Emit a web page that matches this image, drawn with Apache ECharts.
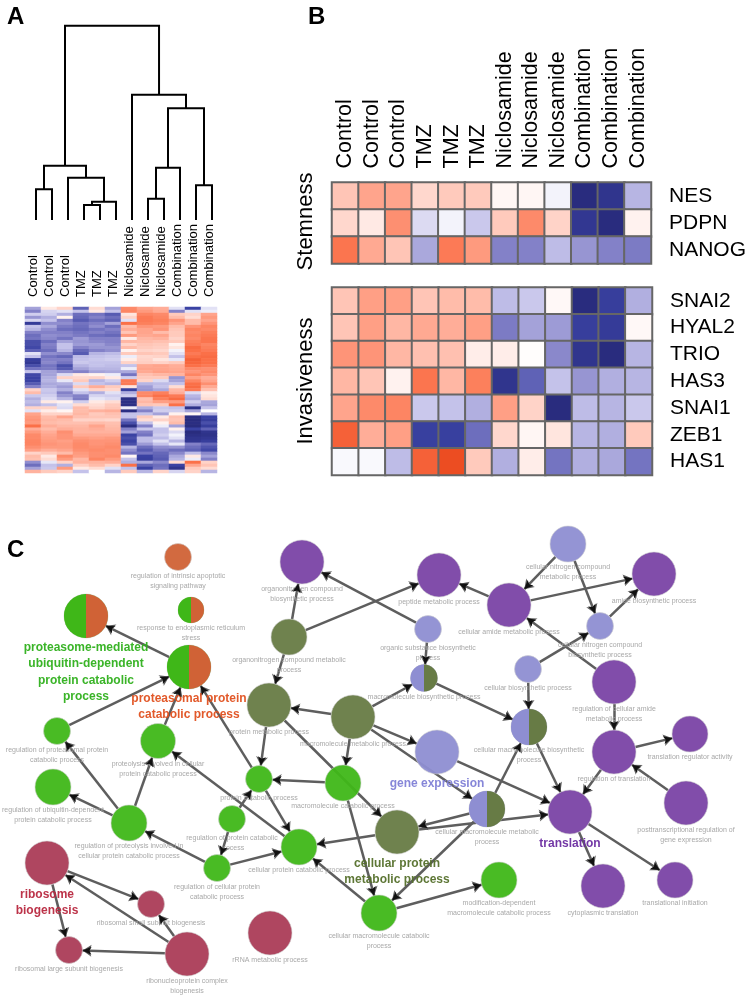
<!DOCTYPE html>
<html>
<head>
<meta charset="utf-8">
<style>html,body{margin:0;padding:0;background:#fff}#chart{width:749px;height:996px}</style>
<script src="https://cdn.jsdelivr.net/npm/echarts@6/dist/echarts.min.js"></script>
</head>
<body>
<div id="chart"></div>
<script>
// ---------- data ----------
const sampleLabels = ['Control','Control','Control','TMZ','TMZ','TMZ','Niclosamide','Niclosamide','Niclosamide','Combination','Combination','Combination'];
// dendrogram merges: left leaf position, left height, right leaf position, right height, merge height
const dendroMerges = [
  [0,0,1,0,30.7],
  [3,0,4,0,15],
  [3.5,15,5,0,18.3],
  [2,0,4.25,18.3,42.3],
  [0.5,30.7,3.125,42.3,54.3],
  [7,0,8,0,21.3],
  [7.5,21.3,9,0,52.3],
  [10,0,11,0,34.7],
  [8.25,52.3,10.5,34.7,111.7],
  [6,0,9.375,111.7,125.3],
  [1.8125,54.3,7.69,125.3,194.3]
];
// panel A: genes (rows) x samples (columns), relative expression
const panelARows = [
[-1.5,.5,1,-2.5,.8,-1.5,2.5,2,1.8,-.5,-3,-.5],
[-2,-.7,-.5,-1,.5,-1,2.6,2.2,1.9,-2,-.5,-.3],
[-.8,-.8,-1.3,-2.3,-2.2,-2.6,.6,2.6,2.5,1.2,1,2],
[-1.7,-1.3,.3,-2.4,-2,-2.3,1,2.8,2.6,1.5,.8,2.2],
[-.7,-1,-2,-2.6,-2.3,-2.5,-.5,2.8,2.7,2.3,1.5,2],
[-3.3,-1.8,-1.8,-2.2,-2,-1.5,3,2.7,2.6,2,1.5,2.3],
[-1,-1.4,-2.1,-2.3,-1.8,-2.3,1.5,2.3,2.2,1.5,2.3,2.6],
[-1.2,-1.8,-2.3,-2.4,-2.2,-2,1.8,2,2.3,1.3,2.6,2.5],
[-2,-2,-2,-2.2,-2,-2.2,1.3,2,1.5,1.2,2.5,2.7],
[-2.3,-1.8,-1.9,-2.1,-2.3,-2.4,2.2,1.9,2,1.2,2.6,2.8],
[-2.2,-1.9,-2.2,-1.6,-2,-2,.5,1.6,1.7,1,2.5,2.9],
[-2.8,-2.3,-1.5,-1.7,-1.9,-2,1.6,1.5,1.4,1.2,2.7,2.9],
[-2.8,-2,-1,-1.6,-1.6,-1.9,1,1.3,1.2,.3,2.8,2.6],
[-2.9,-2.1,-1,-2,-1.7,-1.7,1.5,1.2,1.1,.6,3.1,2.7],
[-2.5,-2.3,-1.2,-2.4,-2,-1.8,.3,1,.9,-.2,3,2.8],
[-.5,-1.8,-1.9,-2.6,-1.2,-1.1,1.2,1.3,1.2,-.5,2.8,3],
[-1,-2.2,-2.4,-1.1,-1,-.9,-.3,.9,1,-1,3,3.1],
[-3.2,-2,-2,-1,-.9,-.8,.4,1,.6,-.4,3.3,3],
[-3.4,-1.9,-2.2,-.9,-1,-1,1,1.1,1,1.2,3.2,3],
[-2.8,-2.2,-2.8,-1.2,-1,-1.1,-1,1.9,2,1.8,3,2.8],
[-2.2,-2.1,-2.6,-1.5,-1.2,-1.2,-.3,2,2,1.9,2.5,2.4],
[-1,-1.5,-1.8,-2,-1.5,-1.4,-1.4,1.9,2.1,2,2.3,2.5],
[-2.9,-1.5,-.6,.5,.3,-.3,-2.2,1.4,1.6,1.7,2.6,2.3],
[-3,-1.3,1,.9,1,.5,-.8,1.2,1.2,-1.7,2.1,1.8],
[-3,-1.2,-.4,1.2,-1.2,-.8,2.8,1,-.6,-1.5,2.6,2],
[-2.6,-1.4,-1.3,-.6,-1,-1.2,2.8,-1.2,-1.1,-1,3,2.4],
[-2,-1.3,-1.6,1.2,1.8,1.2,.6,-1.6,-1,.8,3.1,1.9],
[1,-.9,-1.3,-.5,1,.9,-3.1,-1.7,-1.4,1.6,2.8,1.4],
[1.5,-1,-2,-1,-1.3,-.5,-1.3,2.5,2.7,1.8,-.6,.4],
[-.9,-.8,-1.7,-2,-.7,-.8,-.8,2.6,3,2.8,-1.2,.6],
[-1.3,-.6,-1.2,-2.1,-.4,-.6,-3.8,1.4,2.7,3.1,-1.4,.8],
[-1.1,.5,.3,-.8,.5,.8,-3.8,1.6,2.1,2.2,-.8,-1.4],
[-1.3,-1,-.5,.8,.8,1.2,-3.8,1.3,1.2,3,-1.3,-1.5],
[1,1,-.6,1.5,1,1.3,-.3,-1.3,-.9,-1,-3.7,-1],
[-.5,.4,.2,1.5,1.7,1.8,-3.9,-2,-.8,-.8,-1.5,0],
[2,1,1,1.6,1.2,1.4,-1,-1,-1.5,.3,.2,-1.2],
[2.2,1.5,2,1.4,1.3,1.3,-1,1.2,.5,1.4,-3.9,-3],
[2.3,1.6,1.5,1,1,.9,-2.2,.8,1,1.3,-4,-3.2],
[2.2,1.5,1.4,1.4,1.5,1.4,-2.8,-1,.3,1.5,-3.9,-2.8],
[3,1.8,1.6,1.6,2,1.5,-3.9,-2,-.3,-1.5,-4,-3.2],
[1.8,1.5,1.8,1.7,1.8,1.6,-2,-.9,-1,.3,-3,-2.5],
[2.2,1.8,2.4,1.7,1.7,1.7,-1.5,-2,-1,-.6,-4,-3.6],
[2.5,2,2.3,1.9,1.9,1.9,-3,-2.2,-.8,-.2,-3.8,-3.7],
[2.5,2.1,2.3,2.2,2.1,2.2,-2.8,-1.1,-1.1,-.5,-3.6,-3.5],
[2.6,2.2,2.1,2.4,2.3,2.3,-3,-1.1,-.5,-1.2,-3.5,-3.2],
[2.6,2.3,2.2,2.5,2.3,2.4,-2.8,-1.6,-1,-.4,-2,-2.4],
[2.4,2.2,2.2,2.5,2.4,2.5,-1.2,-2.3,-1.8,-1.7,-2.3,-2.7],
[2.1,1.8,2,2.4,2.5,2.4,-1.8,-2.6,-2.1,-2.3,-2.5,-2.9],
[1,1.2,1.5,2.2,2.4,2.4,-2.2,-2.2,-2.4,-1.9,-1.1,-1.9],
[1.5,.5,2.5,2.1,2.4,2.5,.2,-3,-2.5,-1.4,.5,-1.5],
[1.4,.8,2.2,1.6,2.6,2.2,-1,-3.1,-2.6,-1.2,-.3,-2],
[-1.8,-.4,1,1.7,1.7,1.8,-1.3,-1.4,-1.9,.8,3,1],
[-2.3,-1,-1.3,1.1,1.5,1,3,-2.5,-2.3,-3,2,1.3],
[-1.5,-.9,2.2,.5,.8,-.5,-1,-3,-2.2,-3.6,1.2,.8],
[1.7,1.2,1,-1,0,-1.2,1.2,-1.2,1,-.7,1,-1.2]
];
// panel B
const stemnessGenes = ['NES','PDPN','NANOG'];
const stemnessValues = [
[1.3,2,2,.9,1.2,1.2,.2,.2,-.2,-4,-3.6,-1.2],
[.9,.5,2.4,-.6,-.2,-.9,1.2,2.5,1,-3.5,-4,.3],
[2.9,1.9,1.3,-1.4,2.8,2.2,-2,-2,-1.1,-1.7,-2,-2.1]
];
const invasivenessGenes = ['SNAI2','HYAL2','TRIO','HAS3','SNAI1','ZEB1','HAS1'];
const invasivenessValues = [
[1.3,2.1,2.1,1.3,1.5,1.5,-1.1,-.9,.15,-4,-3.2,-1.3],
[1.3,2.1,1.6,1.9,1.8,2.1,-2.1,-1.5,-1.6,-3.2,-3.3,.15],
[2.3,2.3,1.6,1.4,1.4,.4,.4,.05,-1.9,-3.6,-4,-1.2],
[1.6,1.3,.3,2.9,1.6,2.7,-3.6,-2.5,-1,-1.7,-1.3,-1.2],
[2,2.5,2.6,-.9,-1,-1.3,2.1,1,-4,-1.1,-1.2,-.9],
[3.3,1.8,2.1,-3.1,-3.1,-2.3,.9,.2,.6,-1.2,-1.3,1.2],
[-.1,-.1,-1.1,3.3,3.7,1.2,-1.3,.4,-2.2,-1.3,-1.4,-2.2]
];
// panel C: GO term network
const termLabels = [
'regulation of intrinsic apoptotic\nsignaling pathway','response to endoplasmic reticulum\nstress','proteasome-mediated\nubiquitin-dependent\nprotein catabolic\nprocess','proteasomal protein\ncatabolic process',
'regulation of proteasomal protein\ncatabolic process','proteolysis involved in cellular\nprotein catabolic process','regulation of ubiquitin-dependent\nprotein catabolic process','regulation of proteolysis involved in\ncellular protein catabolic process',
'ribosome\nbiogenesis','ribosomal small subunit biogenesis','ribosomal large subunit biogenesis','ribonucleoprotein complex\nbiogenesis','rRNA metabolic process',
'regulation of protein catabolic\nprocess','regulation of cellular protein\ncatabolic process','protein catabolic process','cellular protein catabolic process','macromolecule catabolic process',
'cellular protein\nmetabolic process','cellular macromolecule metabolic\nprocess','gene expression','translation','modification-dependent\nmacromolecule catabolic process','cellular macromolecule catabolic\nprocess',
'cytoplasmic translation','translational initiation','posttranscriptional regulation of\ngene expression','regulation of translation','translation regulator activity','regulation of cellular amide\nmetabolic process',
'cellular nitrogen compound\nbiosynthetic process','amide biosynthetic process','cellular nitrogen compound\nmetabolic process','cellular amide metabolic process','cellular biosynthetic process','cellular macromolecule biosynthetic\nprocess',
'organonitrogen compound\nbiosynthetic process','peptide metabolic process','organonitrogen compound metabolic\nprocess','organic substance biosynthetic\nprocess','macromolecule biosynthetic process','protein metabolic process','macromolecule metabolic process'];
const termX = [178,191,86,189,57,158,53,129,47,151,69,187,270,232,217,259,299,343,397,487,437,570,499,379,603,675,686,614,690,614,600,654,568,509,528,529,302,439,289,428,424,269,353];
const termY = [557,610,616,667,731,741,787,823,863,904,950,954,933,819,868,779,847,783,832,809,752,812,880,913,886,880,803,752,734,682,626,574,544,605,669,727,562,575,637,629,678,705,717];
const termSize = [27,26,44,44,27,35,36,36,44,27,27,44,44,27,27,27,36,36,44,36,44,44,36,36,44,36,44,44,36,44,27,44,36,44,27,36,44,44,36,27,27,44,44];
const termGroup = ['apoptosis','stress','proteolysis','proteolysis','catabolism','catabolism','catabolism','catabolism','ribosome','ribosome','ribosome','ribosome','ribosome','catabolism','catabolism','catabolism','catabolism','catabolism','protein','mixed','expression','translation','catabolism','catabolism','translation','translation','translation','translation','translation','translation','expression','translation','expression','translation','expression','mixed','translation','translation','protein','expression','mixed','protein','protein'];
const termLinks = [[3,2],[4,3],[5,3],[15,3],[7,4],[7,5],[7,6],[16,5],[14,7],[14,16],[13,14],[13,15],[15,16],[17,15],[41,15],[41,18],[42,41],[42,17],[42,40],[42,20],[42,19],[38,36],[38,37],[38,41],[39,36],[39,40],[40,35],[33,37],[33,31],[32,33],[32,30],[30,31],[34,30],[34,35],[29,33],[29,27],[27,28],[27,21],[26,27],[35,21],[20,21],[19,35],[19,18],[19,23],[18,21],[18,16],[17,23],[23,16],[23,22],[21,24],[21,25],[8,9],[8,10],[11,8],[11,9],[11,10]];
const headlineTerms = {2:'#2fb01c',3:'#e0501f',8:'#b8283f',18:'#55702b',20:'#7f7fd6',21:'#6a2ca0'};

// ---------- styling ----------
const GREEN='#3fb718',ORANGE='#d06236',RED='#ab3c57',PURPLE='#7a43a5',BLUE='#8e8ed2',OLIVE='#677b45';
const groupColors = {apoptosis:ORANGE,stress:GREEN,proteolysis:GREEN,catabolism:GREEN,ribosome:RED,protein:OLIVE,expression:BLUE,translation:PURPLE,mixed:BLUE};
const splitColors = {stress:[GREEN,ORANGE],proteolysis:[GREEN,ORANGE],mixed:[BLUE,OLIVE]};
const FONT='"Liberation Sans", Arial, sans-serif';

const toCells = rows => rows.flatMap((r,y)=>r.map((v,x)=>[x,y,v]));
const sampleIdx = sampleLabels.map((_,i)=>String(i));

const nodes = termLabels.map((label,i)=>{
  const head = headlineTerms[i];
  return {
    name:String(i), value:[termX[i],termY[i]], symbolSize:termSize[i],
    itemStyle:{color:groupColors[termGroup[i]],opacity:0.95,borderColor:'#cfcfcf',borderWidth:0.6},
    label:{show:true,position:'bottom',distance:head?1:0,formatter:label,
      color:head||'#a3a3a3',fontSize:head?12:7,fontWeight:head?'bold':'normal',lineHeight:head?16.5:10,align:'center',fontFamily:FONT}
  };
});
const links = termLinks.map(([s,t])=>({source:String(s),target:String(t)}));
const splitNodes = termLabels.map((_,i)=>i).filter(i=>splitColors[termGroup[i]]);

const option = {
  animation:false,
  backgroundColor:'#fff',
  textStyle:{fontFamily:FONT},
  title:[
    {text:'A',left:2,top:0,textStyle:{fontSize:24,fontWeight:'bold',color:'#000',fontFamily:FONT}},
    {text:'B',left:303,top:0,textStyle:{fontSize:24,fontWeight:'bold',color:'#000',fontFamily:FONT}},
    {text:'C',left:2,top:533,textStyle:{fontSize:24,fontWeight:'bold',color:'#000',fontFamily:FONT}}
  ],
  graphic:[
    {type:'text',x:306,y:221.5,rotation:Math.PI/2,style:{text:'Stemness',font:'22px '+FONT,fill:'#000',textAlign:'center',textVerticalAlign:'middle'}},
    {type:'text',x:306,y:381,rotation:Math.PI/2,style:{text:'Invasiveness',font:'22px '+FONT,fill:'#000',textAlign:'center',textVerticalAlign:'middle'}}
  ],
  grid:[
    {left:28,top:20,width:192,height:200},
    {left:25,top:307,width:192,height:166},
    {left:332,top:182.5,width:320,height:81},
    {left:332,top:287.5,width:320,height:187.5},
    {left:0,top:0,width:749,height:996}
  ],
  xAxis:[
    {gridIndex:0,type:'value',min:-0.5,max:11.5,show:false},
    {gridIndex:1,type:'category',position:'top',data:sampleIdx,axisLine:{show:false},axisTick:{show:false},splitLine:{show:false},
      axisLabel:{rotate:-90,interval:0,margin:10,fontSize:13,color:'#000',formatter:(v)=>sampleLabels[+v]}},
    {gridIndex:2,type:'category',position:'top',data:sampleIdx,axisLine:{show:false},axisTick:{show:false},splitLine:{show:false},
      axisLabel:{rotate:-90,interval:0,margin:14,fontSize:21.5,color:'#000',formatter:(v)=>sampleLabels[+v]}},
    {gridIndex:3,type:'category',data:sampleIdx,show:false},
    {gridIndex:4,type:'value',min:0,max:749,show:false}
  ],
  yAxis:[
    {gridIndex:0,type:'value',min:0,max:200,show:false},
    {gridIndex:1,type:'category',inverse:true,data:panelARows.map((_,i)=>String(i)),show:false},
    {gridIndex:2,type:'category',inverse:true,position:'right',data:stemnessGenes,axisLine:{show:false},axisTick:{show:false},splitLine:{show:false},
      axisLabel:{interval:0,margin:18,fontSize:21,color:'#000'}},
    {gridIndex:3,type:'category',inverse:true,position:'right',data:invasivenessGenes,axisLine:{show:false},axisTick:{show:false},splitLine:{show:false},
      axisLabel:{interval:0,margin:18,fontSize:21,color:'#000'}},
    {gridIndex:4,type:'value',min:0,max:996,inverse:true,show:false}
  ],
  visualMap:{
    show:false,type:'continuous',min:-4,max:4,dimension:2,seriesIndex:[1,2,3],
    inRange:{color:['#292c7e','#3a42a3','#8381c8','#c4c2ea','#ffffff','#ffd3c8','#ffa48c','#fb7048','#e63e12']}
  },
  series:[
    {type:'custom',xAxisIndex:0,yAxisIndex:0,data:dendroMerges,silent:true,clip:false,
      encode:{x:[0,2],y:[1,3,4]},
      renderItem:(params,api)=>{
        const a=api.coord([api.value(0),api.value(1)]),b=api.coord([api.value(0),api.value(4)]),
              c=api.coord([api.value(2),api.value(4)]),d=api.coord([api.value(2),api.value(3)]);
        return {type:'polyline',shape:{points:[a,b,c,d]},style:{stroke:'#000',lineWidth:2,fill:null}};
      }},
    {type:'heatmap',xAxisIndex:1,yAxisIndex:1,data:toCells(panelARows),silent:true,progressive:0},
    {type:'heatmap',xAxisIndex:2,yAxisIndex:2,data:toCells(stemnessValues),silent:true,itemStyle:{borderColor:'#666',borderWidth:2}},
    {type:'heatmap',xAxisIndex:3,yAxisIndex:3,data:toCells(invasivenessValues),silent:true,itemStyle:{borderColor:'#666',borderWidth:2}},
    {type:'graph',coordinateSystem:'cartesian2d',xAxisIndex:4,yAxisIndex:4,layout:'none',silent:true,
      data:nodes,links:links,edgeSymbol:['circle','arrow'],edgeSymbolSize:[0.1,9],
      lineStyle:{color:'#5e5e5e',width:2.5,opacity:1,curveness:0},z:2},
    {type:'custom',xAxisIndex:4,yAxisIndex:4,silent:true,z:3,clip:false,
      data:splitNodes.map(i=>[termX[i],termY[i],termSize[i],i]),
      encode:{x:0,y:1},
      renderItem:(params,api)=>{
        const p=api.coord([api.value(0),api.value(1)]),r=api.value(2)/2,i=api.value(3);
        const cols=splitColors[termGroup[i]];
        const half=(start,end,col)=>({type:'sector',shape:{cx:p[0],cy:p[1],r:r,r0:0,startAngle:start,endAngle:end},style:{fill:col}});
        return {type:'group',children:[half(Math.PI/2,Math.PI*1.5,cols[0]),half(-Math.PI/2,Math.PI/2,cols[1])]};
      }},
    {type:'custom',xAxisIndex:4,yAxisIndex:4,silent:true,z:3,clip:false,
      data:termLinks.map(([s,t])=>[termX[s],termY[s],termX[t],termY[t],termSize[t]]),
      encode:{x:[0,2],y:[1,3]},
      renderItem:(params,api)=>{
        const s=api.coord([api.value(0),api.value(1)]),t=api.coord([api.value(2),api.value(3)]),r=api.value(4)/2;
        const dx=t[0]-s[0],dy=t[1]-s[1],len=Math.hypot(dx,dy),ux=dx/len,uy=dy/len;
        const tip=[t[0]-ux*r,t[1]-uy*r],back=[tip[0]-ux*9,tip[1]-uy*9];
        return {type:'polygon',shape:{points:[tip,[back[0]-uy*4,back[1]+ux*4],[tip[0]-ux*7,tip[1]-uy*7],[back[0]+uy*4,back[1]-ux*4]]},style:{fill:'#111'}};
      }}
  ]
};
const chart = echarts.init(document.getElementById('chart'),null,{renderer:'canvas'});
chart.setOption(option);
</script>
</body>
</html>
